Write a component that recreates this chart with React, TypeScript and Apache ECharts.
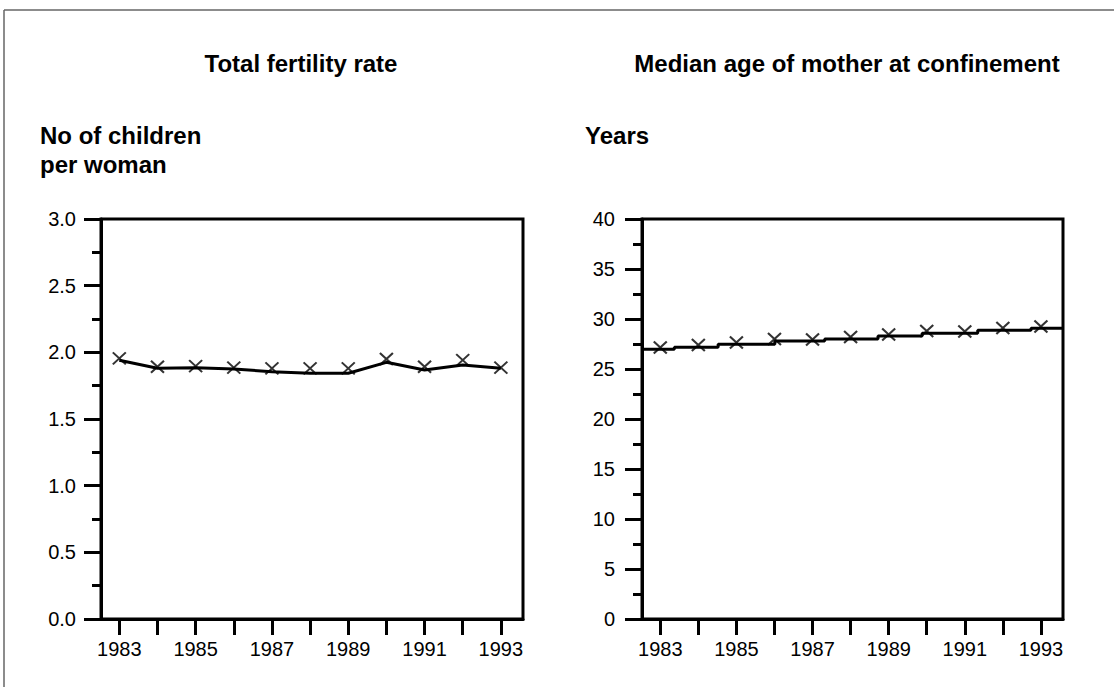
import React, { useEffect, useRef } from "react";
import * as echarts from "echarts";

const years = [1983, 1984, 1985, 1986, 1987, 1988, 1989, 1990, 1991, 1992, 1993];
const yearLabels = [1983, 1985, 1987, 1989, 1991, 1993];
const fertilityLine = [1.94, 1.88, 1.885, 1.875, 1.855, 1.843, 1.843, 1.925, 1.867, 1.905, 1.88];
const fertilityMarks = [1.955, 1.892, 1.897, 1.885, 1.88, 1.88, 1.88, 1.95, 1.892, 1.942, 1.885];
const ageMarks = [27.15, 27.4, 27.65, 28.0, 27.95, 28.2, 28.45, 28.8, 28.75, 29.1, 29.25];
const ageStepStarts = [1982.52, 1983.37, 1984.52, 1986.01, 1987.32, 1988.72, 1989.88, 1991.34, 1992.74];
const ageStepLevels = [26.97, 27.17, 27.47, 27.8, 28.0, 28.3, 28.57, 28.87, 29.07];
const xMin = 1982.52;
const xMax = 1993.58;

const crossPath = "path://M0,0L10,10M10,0L0,10";
const FONT = "Liberation Sans, Arial, sans-serif";

export default function App() {
  const ref = useRef<HTMLDivElement>(null);
  useEffect(() => {
    if (!ref.current) return;
    const chart = echarts.init(ref.current, null, { renderer: "svg" });
    const xAxisBase = (gridIndex: number) => ({
      type: "value",
      gridIndex,
      min: xMin,
      max: xMax,
      splitLine: { show: false },
      axisLine: { show: true, lineStyle: { color: "#000", width: 3 } },
      axisTick: { show: true, customValues: years, length: 16, lineStyle: { color: "#000", width: 3 } },
      axisLabel: {
        customValues: yearLabels,
        margin: 20,
        fontSize: 20,
        color: "#000",
        fontFamily: FONT,
        formatter: (v: number) => String(Math.round(v)),
      },
    });
    const yAxisBase = (gridIndex: number, max: number, interval: number, margin: number, fmt: (v: number) => string) => ({
      type: "value",
      gridIndex,
      min: 0,
      max,
      interval,
      splitLine: { show: false },
      axisLine: { show: true, lineStyle: { color: "#000", width: 3 } },
      axisTick: { show: true, length: 17, lineStyle: { color: "#000", width: 3 } },
      minorTick: { show: true, splitNumber: 2, length: 9, lineStyle: { color: "#000", width: 3 } },
      axisLabel: { margin, fontSize: 20, color: "#000", fontFamily: FONT, formatter: fmt },
    });
    const stepData = ageStepStarts.map((x, i) => [x, ageStepLevels[i]]);
    stepData.push([xMax, ageStepLevels[ageStepLevels.length - 1]]);
    const titleFont = `bold 24px ${FONT}`;
    chart.setOption({
      animation: false,
      backgroundColor: "#fff",
      grid: [
        { left: 101, top: 219, width: 422, height: 400, show: true, borderColor: "#000", borderWidth: 3, containLabel: false },
        { left: 642, top: 219, width: 421, height: 400, show: true, borderColor: "#000", borderWidth: 3, containLabel: false },
      ],
      xAxis: [xAxisBase(0), xAxisBase(1)],
      yAxis: [
        yAxisBase(0, 3, 0.5, 25, (v: number) => v.toFixed(1)),
        yAxisBase(1, 40, 5, 27, (v: number) => String(v)),
      ],
      series: [
        {
          type: "line",
          xAxisIndex: 0,
          yAxisIndex: 0,
          data: years.map((y, i) => [y, fertilityLine[i]]),
          showSymbol: false,
          symbol: "none",
          lineStyle: { color: "#000", width: 3 },
        },
        {
          type: "scatter",
          xAxisIndex: 0,
          yAxisIndex: 0,
          data: years.map((y, i) => [y, fertilityMarks[i]]),
          symbol: crossPath,
          symbolSize: [13, 12],
          itemStyle: { color: "transparent", borderColor: "#000", borderWidth: 2 },
        },
        {
          type: "line",
          xAxisIndex: 1,
          yAxisIndex: 1,
          data: stepData,
          step: "end",
          showSymbol: false,
          symbol: "none",
          lineStyle: { color: "#000", width: 3 },
        },
        {
          type: "scatter",
          xAxisIndex: 1,
          yAxisIndex: 1,
          data: years.map((y, i) => [y, ageMarks[i]]),
          symbol: crossPath,
          symbolSize: [13, 12],
          itemStyle: { color: "transparent", borderColor: "#000", borderWidth: 2 },
        },
      ],
      graphic: [
        { type: "line", shape: { x1: 4, y1: 10, x2: 1114, y2: 10 }, style: { stroke: "#666", lineWidth: 1.5 } },
        { type: "line", shape: { x1: 4, y1: 10, x2: 4, y2: 687 }, style: { stroke: "#666", lineWidth: 1.5 } },
        { type: "text", x: 301, y: 63, style: { text: "Total fertility rate", fill: "#000", font: titleFont, textAlign: "center", textVerticalAlign: "middle" } },
        { type: "text", x: 847, y: 63, style: { text: "Median age of mother at confinement", fill: "#000", font: titleFont, textAlign: "center", textVerticalAlign: "middle" } },
        { type: "text", x: 40, y: 135, style: { text: "No of children", fill: "#000", font: titleFont, textAlign: "left", textVerticalAlign: "middle" } },
        { type: "text", x: 40, y: 164, style: { text: "per woman", fill: "#000", font: titleFont, textAlign: "left", textVerticalAlign: "middle" } },
        { type: "text", x: 585, y: 135, style: { text: "Years", fill: "#000", font: titleFont, textAlign: "left", textVerticalAlign: "middle" } },
      ],
    });
    return () => chart.dispose();
  }, []);
  return <div ref={ref} style={{ position: "fixed", left: 0, top: 0, width: 1114, height: 687 }} />;
}
